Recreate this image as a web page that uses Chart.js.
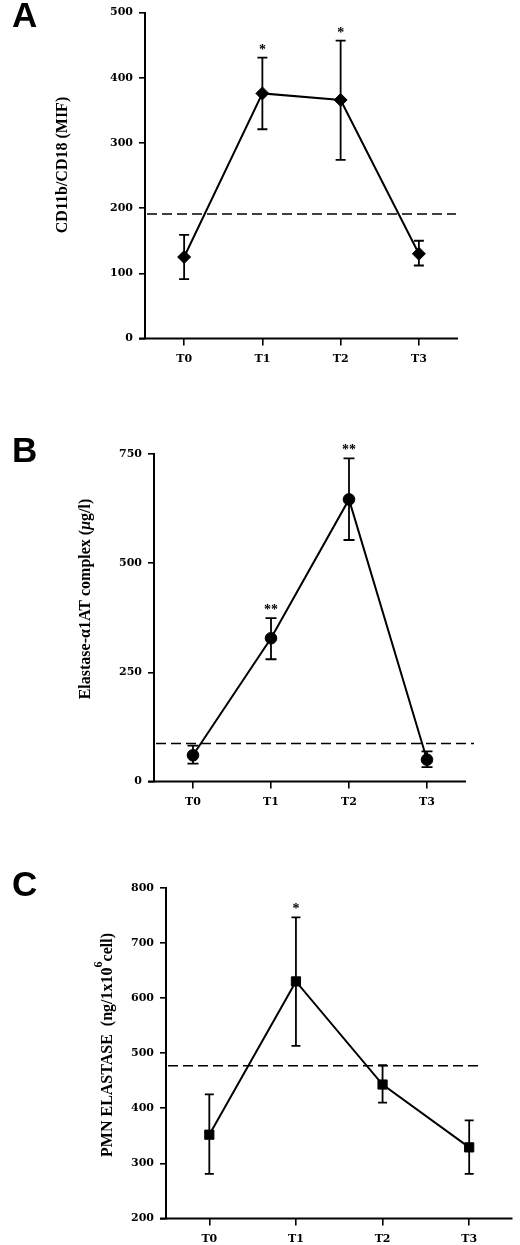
<!DOCTYPE html>
<html lang="en">
<head>
<meta charset="UTF-8">
<title>CD11b/CD18, Elastase-α1AT complex, PMN elastase</title>
<script src="https://cdn.jsdelivr.net/npm/chart.js"></script>
<style>
  html, body { margin: 0; padding: 0; background: #fff; }
  body { width: 520px; height: 1245px; position: relative; overflow: hidden; }
  canvas { position: absolute; left: 0; }
</style>
</head>
<body>
<canvas id="chartA" width="520" height="390" style="top:0px"></canvas>
<canvas id="chartB" width="520" height="420" style="top:400px"></canvas>
<canvas id="chartC" width="520" height="425" style="top:820px"></canvas>

<script>
const timePoints = ['T0', 'T1', 'T2', 'T3'];

// A - CD11b/CD18 (MIF)
const cd11bMean = [125, 376, 366, 130];
const cd11bHigh = [159, 431, 457, 150];
const cd11bLow = [91, 321, 274, 112];
const cd11bRef = 191;
const cd11bStars = ['', '*', '*', ''];
const cd11bTicks = [0, 100, 200, 300, 400, 500];

// B - Elastase-alpha1AT complex (ug/l)
const complexMean = [60, 328, 646, 50];
const complexHigh = [82, 374, 740, 69];
const complexLow = [41, 280, 553, 33];
const complexRef = 87;
const complexStars = ['', '**', '**', ''];
const complexTicks = [0, 250, 500, 750];

// C - PMN elastase (ng/1x10^6 cell)
const pmnMean = [352, 630, 443, 329];
const pmnHigh = [425, 746, 478, 378];
const pmnLow = [281, 513, 410, 281];
const pmnRef = 477;
const pmnStars = ['', '*', '', ''];
const pmnTicks = [200, 300, 400, 500, 600, 700, 800];

const tickFont = { family: 'DejaVu Serif', weight: 'bold', size: 11 };
const titleFont = 'bold 16px "Liberation Serif", "Times New Roman", serif';

function drawTitle(ctx, cx, cy, parts) {
    // parts: [{text, font, dy}] laid out along the rotated baseline
    ctx.save();
    ctx.translate(cx, cy);
    ctx.rotate(-Math.PI / 2);
    ctx.fillStyle = '#000';
    ctx.textBaseline = 'middle';
    ctx.textAlign = 'left';
    let total = 0;
    parts.forEach(p => { ctx.font = p.font; p.w = ctx.measureText(p.text).width; total += p.w; });
    let x = -total / 2;
    parts.forEach(p => {
        ctx.font = p.font;
        ctx.fillText(p.text, x, p.dy || 0);
        x += p.w;
    });
    ctx.restore();
}

function makeChart(id, c) {
    const plugin = {
        id: 'decor_' + id,
        beforeDatasetsDraw(chart) {
            const ctx = chart.ctx;
            const xs = chart.scales.x, ys = chart.scales.y;
            const area = chart.chartArea;
            ctx.save();
            ctx.strokeStyle = '#000';
            // x axis line, running a little past the y axis
            ctx.lineWidth = 2;
            ctx.beginPath();
            ctx.moveTo(area.left - 6, area.bottom);
            ctx.lineTo(area.right, area.bottom);
            ctx.stroke();
            // dashed reference line
            const yr = ys.getPixelForValue(c.ref);
            ctx.lineWidth = 1.6;
            ctx.setLineDash([10, 5]);
            ctx.beginPath();
            ctx.moveTo(area.left + 2, yr);
            ctx.lineTo(area.right + c.refEnd, yr);
            ctx.stroke();
            ctx.setLineDash([]);
            // error bars
            ctx.lineWidth = 1.8;
            c.mean.forEach((m, i) => {
                const x = xs.getPixelForValue(i);
                const yh = ys.getPixelForValue(c.high[i]);
                const yl = ys.getPixelForValue(c.low[i]);
                ctx.beginPath();
                ctx.moveTo(x, yh); ctx.lineTo(x, yl);
                ctx.moveTo(x - c.cap, yh); ctx.lineTo(x + c.cap, yh);
                ctx.moveTo(x - c.cap, yl); ctx.lineTo(x + c.cap, yl);
                ctx.stroke();
            });
            ctx.restore();
        },
        afterDraw(chart) {
            const ctx = chart.ctx;
            const xs = chart.scales.x, ys = chart.scales.y;
            ctx.save();
            ctx.fillStyle = '#000';
            // significance marks
            ctx.font = 'bold 14px "Liberation Serif", serif';
            ctx.textAlign = 'center';
            ctx.textBaseline = 'alphabetic';
            c.stars.forEach((s, i) => {
                if (!s) return;
                const m = ctx.measureText(s);
                const mid = (m.actualBoundingBoxAscent - m.actualBoundingBoxDescent) / 2;
                const x = xs.getPixelForValue(i);
                const y = ys.getPixelForValue(c.high[i]) - 11;
                ctx.fillText(s, x, y + mid);
            });
            // panel letter
            ctx.font = 'bold 35px "Liberation Sans", Arial, sans-serif';
            ctx.textAlign = 'left';
            ctx.fillText(c.letter, 12, c.letterY);
            ctx.restore();
            drawTitle(ctx, c.titleX, c.titleY, c.title);
        }
    };

    const g = c.geom;
    return new Chart(document.getElementById(id), {
        type: 'line',
        data: {
            labels: timePoints,
            datasets: [{
                data: c.mean,
                borderColor: '#000',
                borderWidth: 2,
                backgroundColor: '#000',
                pointBackgroundColor: '#000',
                pointBorderColor: '#000',
                pointStyle: c.pointStyle,
                pointRadius: c.pointRadius,
                pointBorderWidth: 1,
                tension: 0,
                fill: false
            }]
        },
        options: {
            responsive: false,
            animation: false,
            events: [],
            layout: {
                padding: { left: 0, right: 520 - g.right, top: g.top, bottom: g.height - g.bottom - 26 }
            },
            plugins: { legend: { display: false }, tooltip: { enabled: false } },
            scales: {
                x: {
                    type: 'category',
                    offset: true,
                    afterFit: s => { s.height = 26; },
                    border: { display: false },
                    grid: { drawOnChartArea: false, drawTicks: true, tickLength: 7, color: '#000', lineWidth: 1.6 },
                    ticks: { color: '#000', font: tickFont, padding: 7 }
                },
                y: {
                    min: c.ticks[0],
                    max: c.ticks[c.ticks.length - 1],
                    afterFit: s => { s.width = g.left; },
                    afterBuildTicks: s => { s.ticks = c.ticks.map(v => ({ value: v })); },
                    border: { display: true, color: '#000', width: 2 },
                    grid: { drawOnChartArea: false, drawTicks: true, tickLength: 6, color: '#000', lineWidth: 1.6 },
                    ticks: { color: '#000', font: tickFont, padding: 6 }
                }
            }
        },
        plugins: [plugin]
    });
}

makeChart('chartA', {
    mean: cd11bMean, high: cd11bHigh, low: cd11bLow, ref: cd11bRef, stars: cd11bStars, ticks: cd11bTicks,
    pointStyle: 'rectRot', pointRadius: 6.5, cap: 5, refEnd: -2,
    letter: 'A', letterY: 27,
    titleX: 63, titleY: 165,
    title: [{ text: 'CD11b/CD18 (MIF)', font: titleFont }],
    geom: { left: 145, right: 458, top: 6.5, bottom: 338.5, height: 390 }
});

makeChart('chartB', {
    mean: complexMean, high: complexHigh, low: complexLow, ref: complexRef, stars: complexStars, ticks: complexTicks,
    pointStyle: 'circle', pointRadius: 5.8, cap: 5.5, refEnd: 8,
    letter: 'B', letterY: 62,
    titleX: 86, titleY: 199,
    title: [
        { text: 'Elastase-\u03b11AT complex (', font: titleFont },
        { text: '\u03bc', font: 'italic bold 16px "Liberation Serif", serif' },
        { text: 'g/l)', font: titleFont }
    ],
    geom: { left: 154, right: 466, top: 54, bottom: 381.5, height: 420 }
});

makeChart('chartC', {
    mean: pmnMean, high: pmnHigh, low: pmnLow, ref: pmnRef, stars: pmnStars, ticks: pmnTicks,
    pointStyle: 'rect', pointRadius: 6.5, cap: 4.5, refEnd: -34,
    letter: 'C', letterY: 76,
    titleX: 108, titleY: 225,
    title: [
        { text: 'PMN ELASTASE  (ng/1x10', font: titleFont },
        { text: '6', font: 'bold 12px "Liberation Serif", serif', dy: -9 },
        { text: 'cell)', font: titleFont }
    ],
    geom: { left: 166, right: 515, top: 67.7, bottom: 398.5, height: 425 }
});
</script>
</body>
</html>
